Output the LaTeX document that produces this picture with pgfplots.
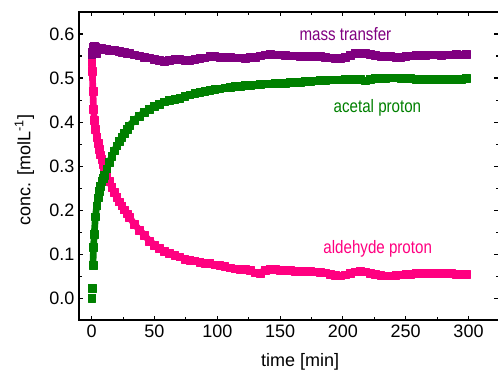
\documentclass[border=0pt]{standalone}
\usepackage{fontspec}
\setmainfont{Liberation Sans}
\newfontfamily\narrowfont[FakeStretch=0.84]{Liberation Sans}
\usepackage{pgfplots}
\pgfplotsset{compat=1.18}
\definecolor{mtpurple}{RGB}{128,0,128}
\definecolor{acgreen}{RGB}{0,128,0}
\definecolor{alpink}{RGB}{255,0,128}
\begin{document}
\begin{tikzpicture}
\begin{axis}[
  scale only axis, width=314.5pt, height=231pt,
  xmin=-10, xmax=324, ymin=-0.05, ymax=0.65,
  xtick={0,50,100,150,200,250,300}, minor x tick num=1,
  ytick={0,0.1,0.2,0.3,0.4,0.5,0.6}, minor y tick num=1,
  tick align=inside,
  major tick length=3.2pt, minor tick length=2pt,
  axis line style={line width=1pt},
  every tick/.style={line width=0.8pt, black},
  /pgf/number format/assume math mode=true,
  tick label style={font=\fontsize{13.5}{16}\selectfont},
  yticklabel style={/pgf/number format/.cd, fixed, fixed zerofill, precision=1},
  label style={font=\fontsize{13.5}{16}\selectfont},
  xlabel={time [min]},
  ylabel={conc. [molL\textsuperscript{-1}]},
  xlabel style={at={(axis description cs:0.527,-0.136)}, anchor=center},
  ylabel style={at={(axis description cs:-0.1304,0.487)}, anchor=center},
  clip=false,
  every axis plot/.append style={line width=5pt, line join=round, mark=square*, mark size=2.9pt, mark options={solid, line width=0.3pt}},
]
% aldehyde proton
\addplot[alpink] coordinates {
(0,0.535) (0.5,0.515) (1,0.47) (1.5,0.43) (2,0.405) (3,0.383) (4,0.366) (5,0.352) (6,0.338) (7,0.326) (8,0.315) (9,0.304) (10,0.294) (12,0.278) (14,0.265) (16,0.252) (18,0.240) (20,0.229) (22,0.219) (24,0.210) (26,0.201) (28,0.192) (30,0.184)
(34,0.168) (38,0.155) (42,0.143) (46,0.130) (50,0.121) (54,0.113) (58,0.106) (62,0.102) (66,0.098) (70,0.094) (74,0.089) (78,0.087) (82,0.085) (86,0.082) (90,0.080) (94,0.079) (98,0.076) (102,0.074) (106,0.072) (110,0.069) (114,0.067) (118,0.066) (122,0.065) (126,0.064) (130,0.058) (134,0.057) (138,0.064) (142,0.066) (146,0.065) (150,0.064) (154,0.063) (158,0.063) (162,0.062) (166,0.062) (170,0.061) (174,0.061) (178,0.060) (182,0.059) (186,0.058) (190,0.055) (194,0.052) (198,0.051) (202,0.053) (206,0.057) (210,0.060) (214,0.062) (218,0.060) (222,0.057) (226,0.054) (230,0.052) (234,0.051) (238,0.051) (242,0.052) (246,0.053) (250,0.054) (254,0.055) (258,0.056) (262,0.057) (266,0.057) (270,0.056) (274,0.056) (278,0.057) (282,0.056) (286,0.056) (290,0.055) (294,0.055) (298,0.055)
};
% acetal proton
\addplot[acgreen, only marks] coordinates {(0,0.0) (0.3,0.022)};
\addplot[acgreen] coordinates {
(1,0.075) (1.5,0.115) (2,0.145) (3,0.185) (4,0.210) (5,0.228) (6,0.243) (7,0.255) (8,0.265) (9,0.273) (10,0.280) (12,0.294) (14,0.308) (16,0.322) (18,0.335) (20,0.346) (22,0.356) (24,0.366) (26,0.375) (28,0.384) (30,0.392)
(34,0.404) (38,0.414) (42,0.422) (46,0.430) (50,0.436) (54,0.441) (58,0.446) (62,0.449) (66,0.452) (70,0.455) (74,0.458) (78,0.462) (82,0.465) (86,0.468) (90,0.470) (94,0.472) (98,0.474) (102,0.476) (106,0.478) (110,0.480) (114,0.481) (118,0.482) (122,0.483) (126,0.484) (130,0.485) (134,0.486) (138,0.487) (142,0.487) (146,0.488) (150,0.488) (154,0.489) (158,0.490) (162,0.490) (166,0.491) (170,0.492) (174,0.493) (178,0.494) (182,0.495) (186,0.495) (190,0.496) (194,0.496) (198,0.496) (202,0.497) (206,0.497) (210,0.498) (214,0.497) (218,0.494) (222,0.497) (226,0.499) (230,0.500) (234,0.500) (238,0.501) (242,0.501) (246,0.500) (250,0.499) (254,0.499) (258,0.498) (262,0.498) (266,0.498) (270,0.497) (274,0.497) (278,0.498) (282,0.498) (286,0.498) (290,0.498) (294,0.498) (298,0.499)
};
% mass transfer
\addplot[mtpurple] coordinates {
(0,0.553) (0.5,0.558) (1,0.562) (1.5,0.570) (2,0.572) (3,0.570) (4,0.556) (5,0.568) (6,0.566) (7,0.568) (8,0.567) (9,0.565) (10,0.566) (12,0.566) (14,0.564) (16,0.564) (18,0.563) (20,0.562) (22,0.561) (24,0.559) (26,0.558) (28,0.557) (30,0.556)
(34,0.553) (38,0.551) (42,0.548) (46,0.546) (50,0.543) (54,0.540) (58,0.539) (62,0.541) (66,0.542) (70,0.543) (74,0.541) (78,0.540) (82,0.543) (86,0.545) (90,0.546) (94,0.549) (98,0.549) (102,0.548) (106,0.548) (110,0.547) (114,0.546) (118,0.546) (122,0.545) (126,0.547) (130,0.548) (134,0.551) (138,0.553) (142,0.554) (146,0.553) (150,0.553) (154,0.552) (158,0.551) (162,0.551) (166,0.550) (170,0.550) (174,0.550) (178,0.549) (182,0.549) (186,0.548) (190,0.546) (194,0.545) (198,0.545) (202,0.548) (206,0.552) (210,0.556) (214,0.557) (218,0.556) (222,0.554) (226,0.552) (230,0.550) (234,0.549) (238,0.549) (242,0.548) (246,0.548) (250,0.550) (254,0.551) (258,0.552) (262,0.552) (266,0.552) (270,0.553) (274,0.553) (278,0.552) (282,0.553) (286,0.553) (290,0.554) (294,0.553) (298,0.554)
};
\node[anchor=base, text=mtpurple, font=\narrowfont\fontsize{13.5}{16}\selectfont, inner sep=0pt] at (axis cs:202,0.585) {mass transfer};
\node[anchor=base, text=acgreen, font=\narrowfont\fontsize{13.5}{16}\selectfont, inner sep=0pt] at (axis cs:227.5,0.422) {acetal proton};
\node[anchor=base, text=alpink, font=\narrowfont\fontsize{13.5}{16}\selectfont, inner sep=0pt] at (axis cs:227.7,0.102) {aldehyde proton};
\end{axis}
\pgfresetboundingbox
\path[use as bounding box] ([shift={(-59.3pt,-37.5pt)}]current axis.south west) rectangle ([shift={(-0.5pt,9pt)}]current axis.north east);
\end{tikzpicture}
\end{document}
